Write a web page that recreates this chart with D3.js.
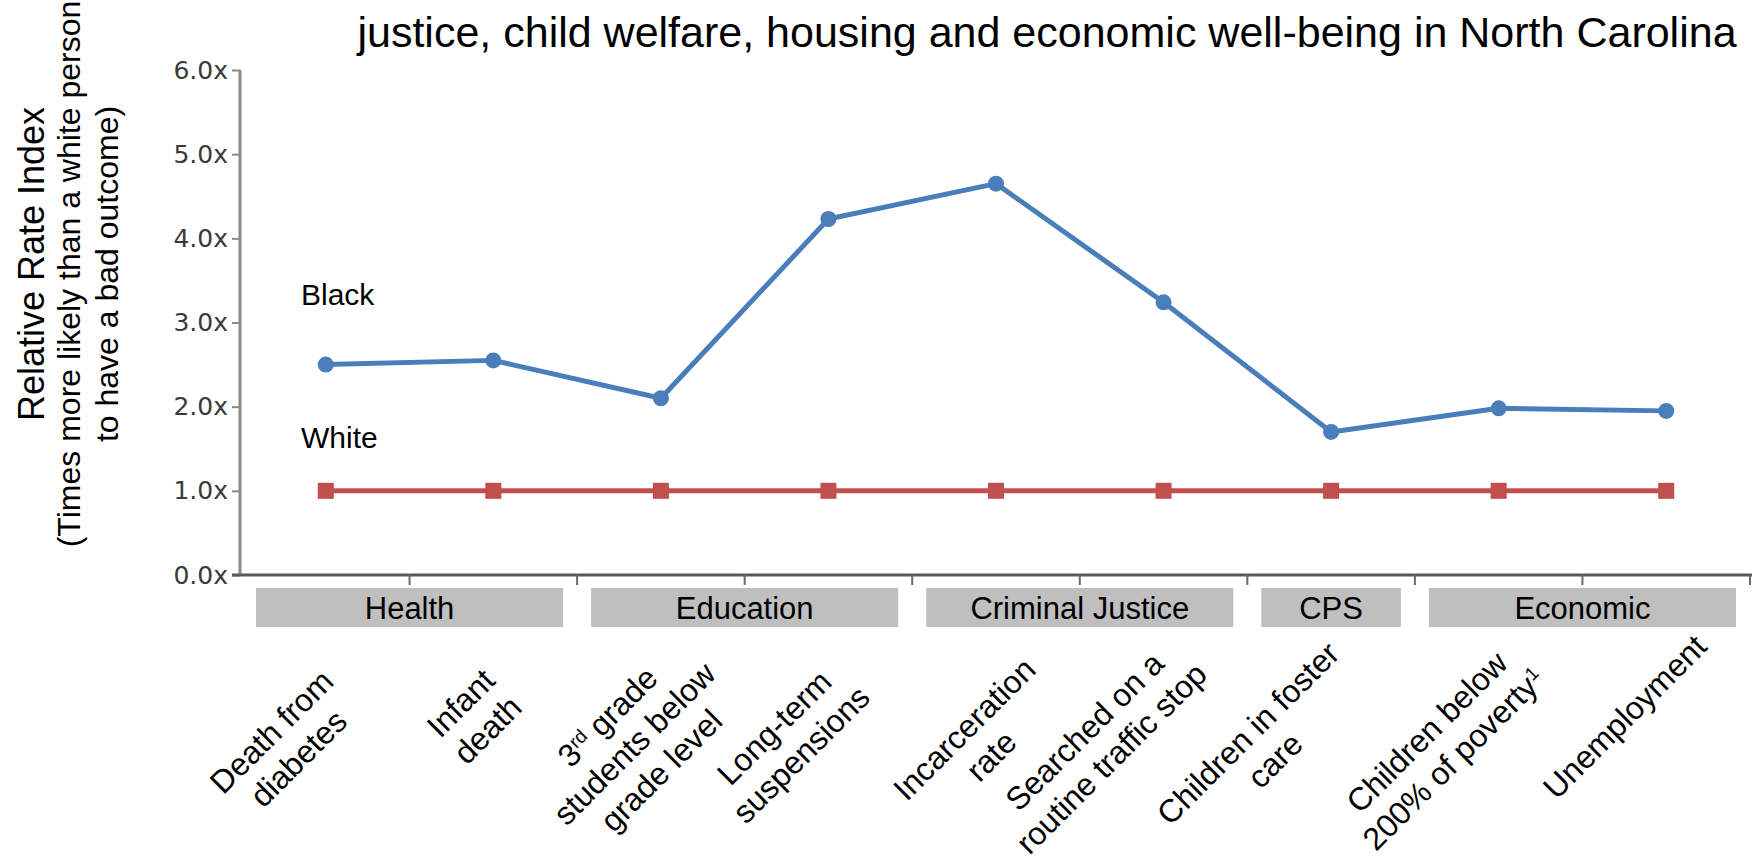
<!DOCTYPE html>
<html>
<head>
<meta charset="utf-8">
<script src="https://cdn.jsdelivr.net/npm/d3@7"></script>
<style>
  body { margin: 0; background: #fff; }
  text { font-family: "Liberation Sans", Arial, sans-serif; fill: #000; }
</style>
</head>
<body>
<div id="chart"></div>
<script>
// Category labels, one entry per line ({..} marks a superscript)
const categories = [
  ["Death from", "diabetes"],
  ["Infant", "death"],
  ["3{rd} grade", "students below", "grade level"],
  ["Long-term", "suspensions"],
  ["Incarceration", "rate"],
  ["Searched on a", "routine traffic stop"],
  ["Children in foster", "care"],
  ["Children below", "200% of poverty{1}"],
  ["Unemployment"]
];
const groups = ["Health", "Education", "Criminal Justice", "CPS", "Economic"];
const groupFirst = [0, 2, 4, 6, 7];
const groupLast = [1, 3, 5, 6, 8];
const blackValues = [2.5, 2.55, 2.1, 4.23, 4.65, 3.24, 1.7, 1.98, 1.95];
const whiteValues = [1, 1, 1, 1, 1, 1, 1, 1, 1];
const yTicks = [0, 1, 2, 3, 4, 5, 6];

const width = 1756;
const height = 864;

// hand placement of the slanted labels (the original boxes were placed by hand)
const labelNudgeX = [-11, -17, 10, -4, 21, -2, -10, 1, 22];
const labelNudgeY = [3, 2, -32, -8, -9, -31, -25, -26, -32];

const svg = d3.select("#chart")
  .append("svg")
  .attr("width", width)
  .attr("height", height);

// Scales
const x = d3.scaleBand()
  .domain(d3.range(categories.length))
  .range([242, 1750]);

const y = d3.scaleLinear()
  .domain([0, 6])
  .range([575, 70]);

const cx = i => x(i) + x.bandwidth() / 2;

// Title (second line of the slide title)
svg.append("text")
  .attr("x", 1047)
  .attr("y", 47)
  .attr("text-anchor", "middle")
  .style("font-size", "43px")
  .text("justice, child welfare, housing and economic well-being in North Carolina");

// Y axis
const yAxis = svg.append("g")
  .attr("transform", "translate(240,0)")
  .call(d3.axisLeft(y).tickValues(yTicks).tickSize(8).tickPadding(4)
    .tickFormat(d => d3.format(".1f")(d) + "x"));
yAxis.select(".domain").attr("stroke", "#8a8a8a").attr("stroke-width", 3)
  .attr("d", `M0,${y(6)}V${y(0)}`);
yAxis.selectAll(".tick line").attr("stroke", "#8a8a8a").attr("stroke-width", 2);
yAxis.selectAll(".tick text")
  .style("font-family", "'DejaVu Sans', sans-serif")
  .style("font-size", "25px")
  .style("fill", "#3a3a3a");

// X axis: a line with ticks on the band boundaries
svg.append("line")
  .attr("x1", 232).attr("x2", 1752)
  .attr("y1", y(0)).attr("y2", y(0))
  .attr("stroke", "#5a5a5a").attr("stroke-width", 3);
svg.selectAll(".xtick")
  .data(d3.range(categories.length))
  .enter()
  .append("line")
  .attr("class", "xtick")
  .attr("x1", i => x(i) + x.bandwidth())
  .attr("x2", i => x(i) + x.bandwidth())
  .attr("y1", y(0))
  .attr("y2", y(0) + 10)
  .attr("stroke", "#6a6a6a").attr("stroke-width", 2);

// Group boxes under the axis
const groupG = svg.selectAll(".group")
  .data(groups)
  .enter()
  .append("g")
  .attr("class", "group");
groupG.append("rect")
  .attr("x", (d, k) => x(groupFirst[k]) + 14)
  .attr("y", 588)
  .attr("width", (d, k) => x(groupLast[k]) + x.bandwidth() - x(groupFirst[k]) - 28)
  .attr("height", 39)
  .attr("fill", "#bfbfbf");
groupG.append("text")
  .attr("x", (d, k) => (x(groupFirst[k]) + x(groupLast[k]) + x.bandwidth()) / 2)
  .attr("y", 619)
  .attr("text-anchor", "middle")
  .style("font-size", "31px")
  .text(d => d);

// Lines and markers
const line = d3.line()
  .x((d, i) => cx(i))
  .y(d => y(d));

svg.append("path")
  .datum(whiteValues)
  .attr("d", line)
  .attr("fill", "none")
  .attr("stroke", "#c0504d")
  .attr("stroke-width", 5);
svg.selectAll(".sq")
  .data(whiteValues)
  .enter()
  .append("rect")
  .attr("class", "sq")
  .attr("x", (d, i) => cx(i) - 8)
  .attr("y", d => y(d) - 8)
  .attr("width", 16)
  .attr("height", 16)
  .attr("fill", "#c0504d");

svg.append("path")
  .datum(blackValues)
  .attr("d", line)
  .attr("fill", "none")
  .attr("stroke", "#4a7ebb")
  .attr("stroke-width", 5)
  .attr("stroke-linejoin", "round");
svg.selectAll(".dot")
  .data(blackValues)
  .enter()
  .append("circle")
  .attr("class", "dot")
  .attr("cx", (d, i) => cx(i))
  .attr("cy", d => y(d))
  .attr("r", 8)
  .attr("fill", "#4a7ebb");

// Series labels
svg.append("text").attr("x", 301).attr("y", 305).style("font-size", "30px").text("Black");
svg.append("text").attr("x", 301).attr("y", 448).style("font-size", "30px").text("White");

// Y axis title
svg.append("text")
  .attr("transform", "translate(44,264) rotate(-90)")
  .attr("text-anchor", "middle")
  .style("font-size", "36px")
  .text("Relative Rate Index");
const sub = svg.append("text")
  .attr("transform", "translate(80,274) rotate(-90)")
  .attr("text-anchor", "middle")
  .style("font-size", "32px");
sub.append("tspan").attr("x", 0).attr("y", 0).text("(Times more likely than a white person");
sub.append("tspan").attr("x", 0).attr("y", 38).text("to have a bad outcome)");

// Slanted category labels
categories.forEach((lines, i) => {
  const t = svg.append("text")
    .attr("text-anchor", "middle")
    .style("font-size", "32px");
  lines.forEach((ln, j) => {
    const row = t.append("tspan").attr("x", 0).attr("y", j * 38);
    ln.split(/(\{[^}]*\})/).filter(s => s).forEach(seg => {
      if (seg.startsWith("{")) {
        row.append("tspan")
          .attr("baseline-shift", "super")
          .style("font-size", "19px")
          .text(seg.slice(1, -1));
      } else {
        row.append("tspan").text(seg);
      }
    });
  });
  const b = t.node().getBBox();
  const ax = cx(i) + labelNudgeX[i];
  const ay = 660 + labelNudgeY[i];
  t.attr("transform",
    `translate(${ax},${ay}) rotate(-45) translate(${-(b.x + b.width)},${-b.y})`);
});
</script>
</body>
</html>
